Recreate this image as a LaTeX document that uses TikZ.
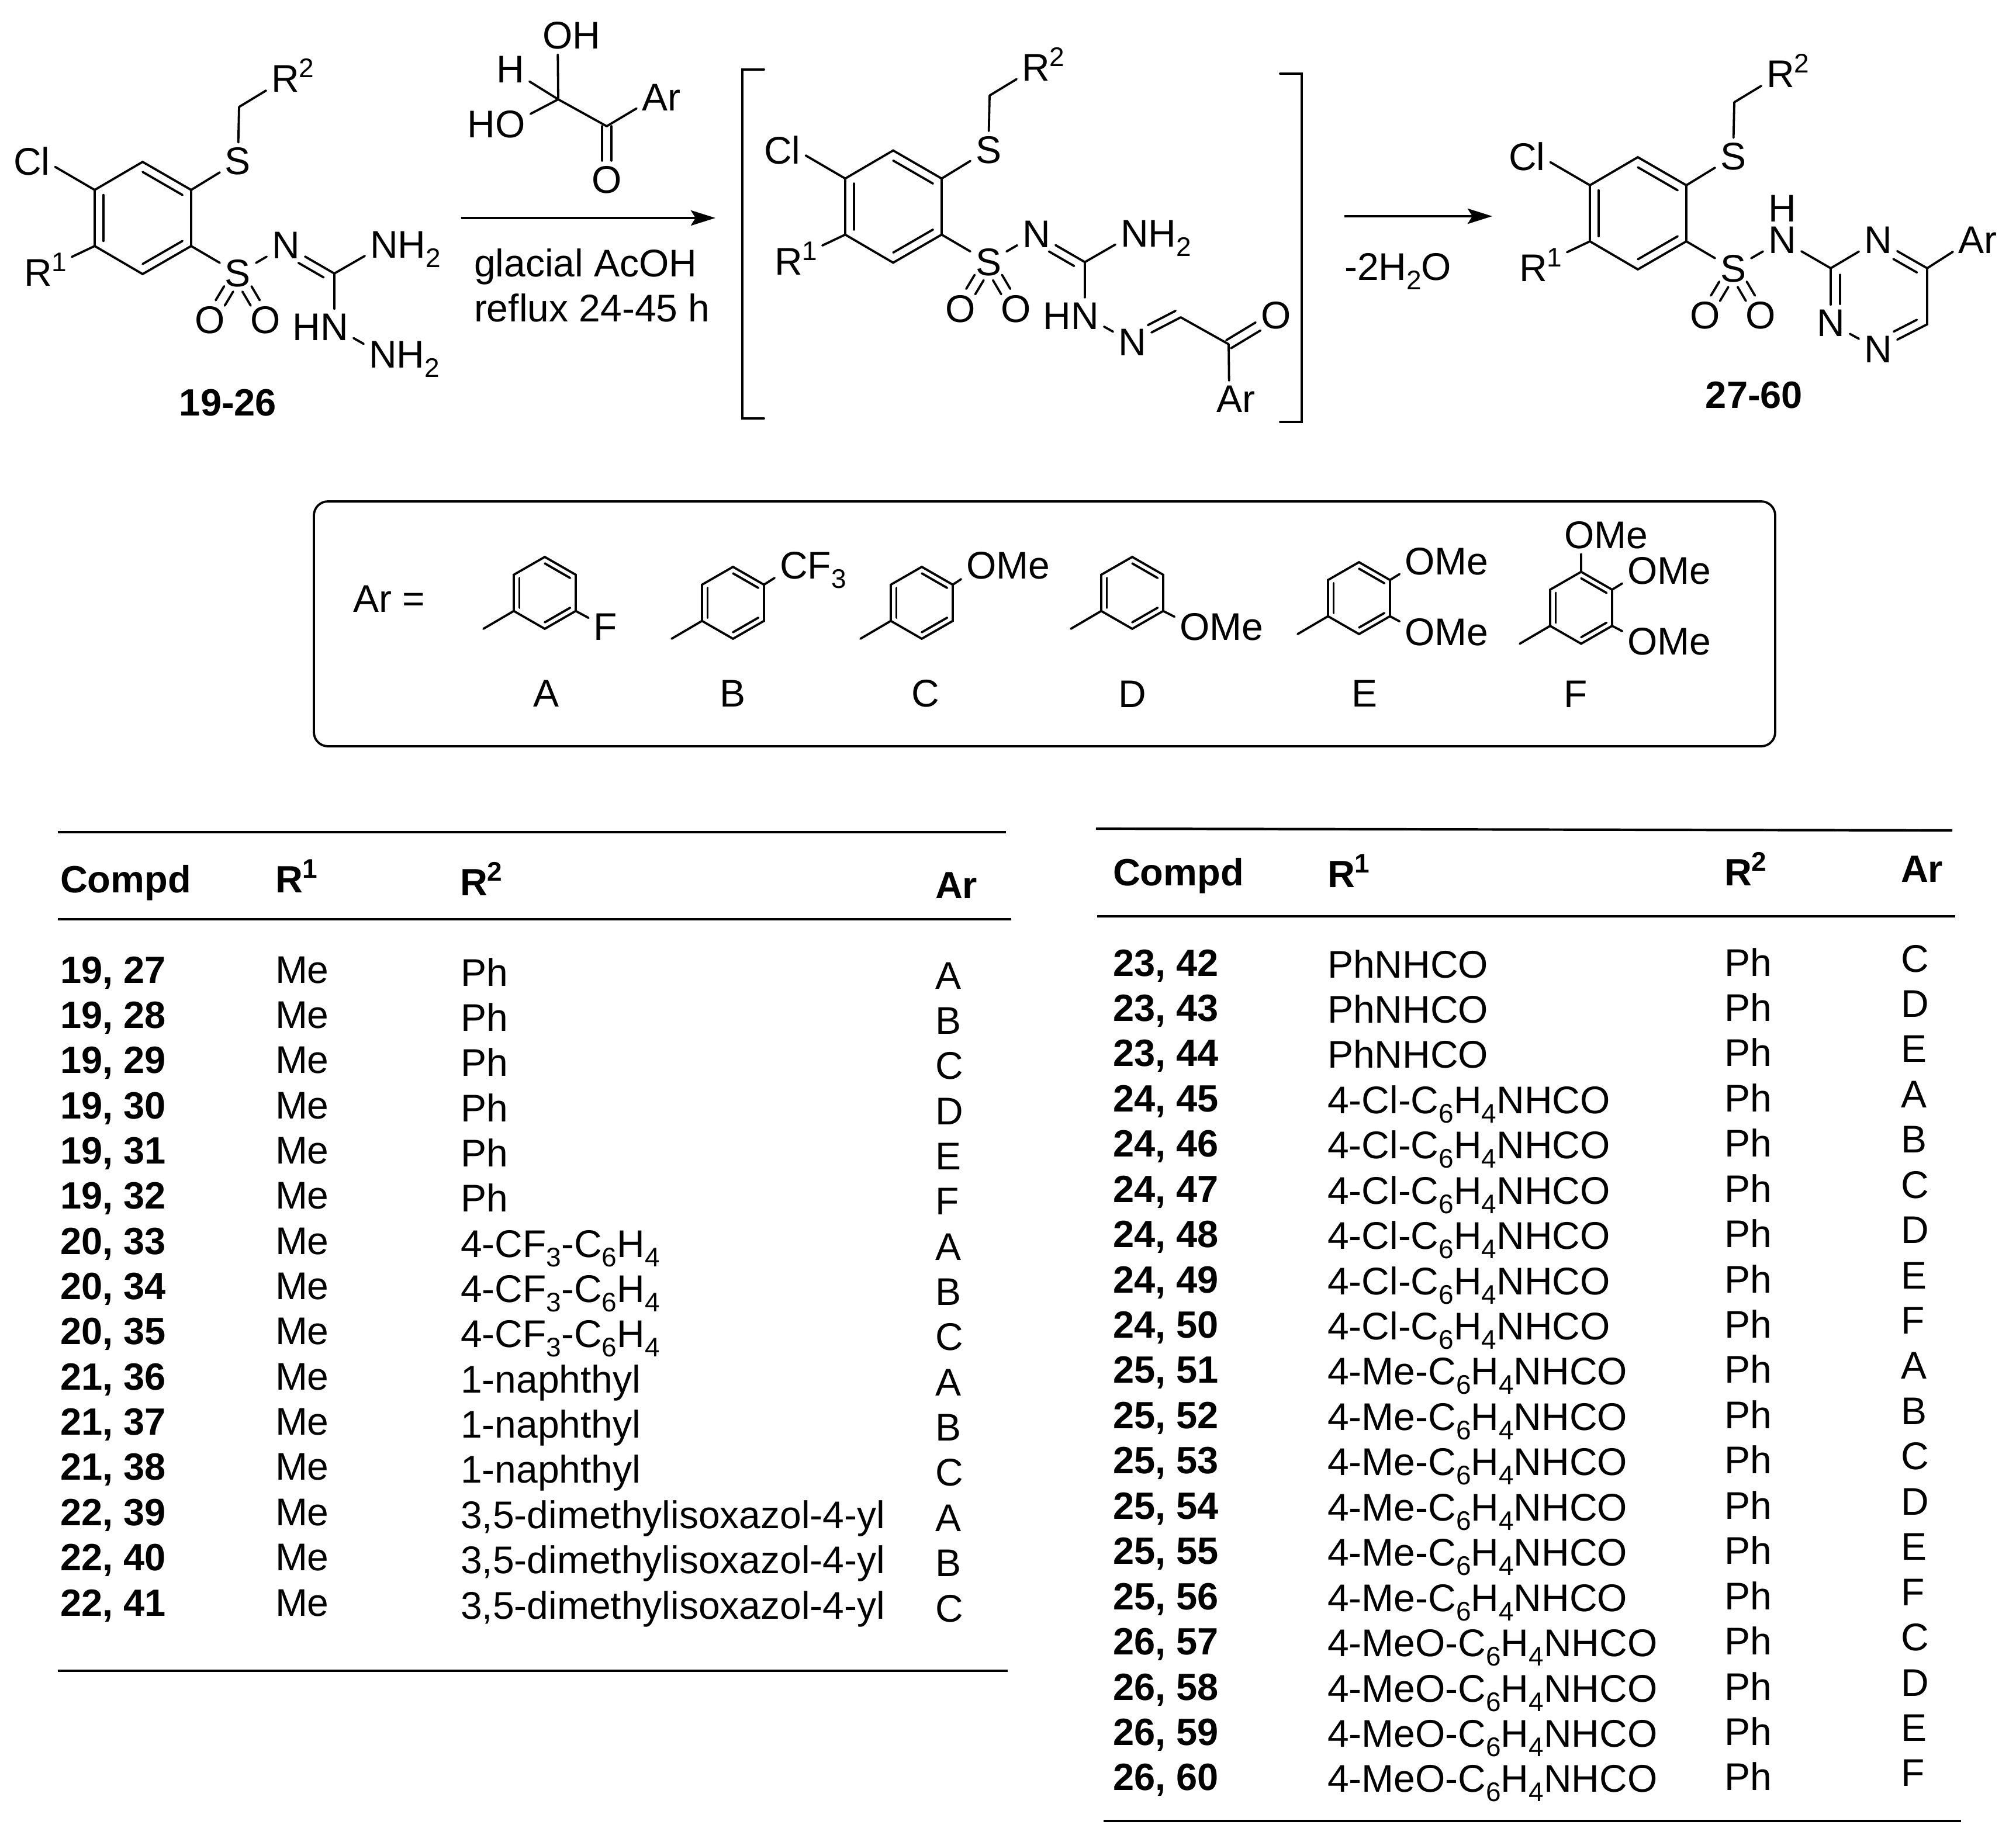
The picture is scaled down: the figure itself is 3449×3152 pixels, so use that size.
\documentclass[tikz,border=0pt]{standalone}
\usepackage{fontspec}
\setmainfont{Liberation Sans}
\usetikzlibrary{calc,arrows.meta}
\newcommand\lblfont{\fontsize{33pt}{36pt}\selectfont}
\newcommand\bldfont{\fontsize{32.5pt}{36pt}\selectfont\bfseries}
\newcommand\sbs[1]{\raisebox{-8pt}{\fontsize{23pt}{23pt}\selectfont #1}}
\newcommand\sups[1]{\raisebox{12.5pt}{\fontsize{23pt}{23pt}\selectfont #1}}
\newcommand\aft[1]{\rlap{\smash{#1}}}
\newcommand\bef[1]{\llap{\smash{#1}}}
\tikzset{
  atom/.style={inner sep=4.5pt,outer sep=0pt,font=\lblfont},
  bond/.style={line width=1.9pt,line cap=round},
  rxn/.style={line width=2.4pt,-{Stealth[length=21pt,width=13pt,inset=4pt]}},
  rule/.style={line width=2.1pt},
  txt/.style={anchor=base west,inner sep=0pt,outer sep=0pt,font=\lblfont},
  bold/.style={anchor=base west,inner sep=0pt,outer sep=0pt,font=\bldfont},
  lab/.style={inner sep=0pt,outer sep=0pt,font=\lblfont},
}
% parallel pair either side of the axis a-b
\newcommand\pairb[5]{%
  \draw[bond] ($(#1)!#3!(#2)!#5!90:(#2)$) -- ($(#1)!#4!(#2)!#5!90:(#2)$);
  \draw[bond] ($(#1)!#3!(#2)!#5!-90:(#2)$) -- ($(#1)!#4!(#2)!#5!-90:(#2)$);}
% one line beside the axis a-b
\newcommand\offb[5]{%
  \draw[bond] ($(#1)!#3!(#2)!#5!90:(#2)$) -- ($(#1)!#4!(#2)!#5!90:(#2)$);}
% inner line of an aromatic bond
\newcommand\innerb[3]{%
  \draw[bond] ($(#1)!.18!(#3)$) -- ($(#2)!.18!(#3)$);}
% chlorobenzene sulfonyl fragment shared by the three molecules
\newcommand\corefrag[3]{%
\begin{scope}[shift={(#2,#3)}]
  \coordinate (#1a) at (244,277);
  \coordinate (#1b) at (327,325);
  \coordinate (#1c) at (327,421);
  \coordinate (#1d) at (244,469);
  \coordinate (#1e) at (162,421);
  \coordinate (#1f) at (162,325);
  \coordinate (#1m) at (244.5,373);
  \coordinate (#1ch) at (409,183);
  \node[atom] (#1cl) at (78,276) {\bef{C}l};
  \node[atom,inner xsep=17pt] (#1ra) at (65,467) {R\aft{\sups{1}}};
  \node[atom] (#1rb) at (488,135) {R\aft{\sups{2}}};
  \node[atom] (#1st) at (407,276) {S};
  \node[atom] (#1sb) at (407,468) {S};
  \node[atom] (#1ol) at (359,548) {O};
  \node[atom] (#1or) at (454,548) {O};
  \draw[bond] (#1a)--(#1b)--(#1c)--(#1d)--(#1e)--(#1f)--cycle;
  \innerb{#1a}{#1b}{#1m}
  \innerb{#1e}{#1f}{#1m}
  \innerb{#1c}{#1d}{#1m}
  \draw[bond] (#1f) -- (#1cl);
  \draw[bond] (#1e) -- (#1ra);
  \draw[bond] (#1b) -- (#1st);
  \draw[bond] (#1st) -- (#1ch);
  \draw[bond] (#1ch) -- (#1rb);
  \draw[bond] (#1c) -- (#1sb);
  \pairb{#1sb}{#1ol}{.33}{.63}{4.5pt}
  \pairb{#1sb}{#1or}{.33}{.63}{4.5pt}
\end{scope}}
% N=C(NH2)-NH part of the two guanidines
\newcommand\guan[3]{%
\begin{scope}[shift={(#2,#3)}]
  \coordinate (#1gc) at (572,468);
  \node[atom] (#1gn) at (489,420) {N};
  \node[atom] (#1gh) at (657,419) {N\aft{H\sbs{2}}};
  \node[atom] (#1gi) at (572,560) {\bef{H}N};
  \draw[bond] (#1sb) -- (#1gn);
  \draw[bond] (#1gn) -- (#1gc);
  \offb{#1gn}{#1gc}{.35}{.87}{-7.5pt}
  \draw[bond] (#1gc) -- (#1gh);
  \draw[bond] (#1gc) -- (#1gi);
\end{scope}}
% substituted phenyl of the Ar box
\newcommand\arring[3]{%
\begin{scope}[shift={(#2,#3)}]
  \coordinate (#1m) at (0,0);
  \coordinate (#1a) at (0,-61.5);
  \coordinate (#1b) at (53,-31);
  \coordinate (#1c) at (53,31);
  \coordinate (#1d) at (0,61.5);
  \coordinate (#1e) at (-53,31);
  \coordinate (#1f) at (-53,-31);
  \coordinate (#1s) at (-105,61.5);
  \draw[bond] (#1a)--(#1b)--(#1c)--(#1d)--(#1e)--(#1f)--cycle;
  \innerb{#1a}{#1b}{#1m}
  \innerb{#1e}{#1f}{#1m}
  \innerb{#1c}{#1d}{#1m}
  \draw[bond] (#1e) -- (#1s);
\end{scope}}
\begin{document}
\begin{tikzpicture}[x=0.5pt,y=-0.5pt]
\useasboundingbox (0,0) rectangle (3449,3152);
\fill[white] (0,0) rectangle (3449,3152);

% ---- molecule 19-26
\corefrag{p}{0}{0}
\guan{p}{0}{0}
\node[atom] (pnh) at (655,607) {N\aft{H\sbs{2}}};
\draw[bond] (pgi) -- (pnh);
\node[lab,font=\bldfont] (pname) at (390,689) {19-26};

% ---- reagent
\coordinate (ga) at (955,170);
\coordinate (gb) at (1038,216);
\node[atom] (goh) at (954,61) {O\aft{H}};
\node[atom] (gh) at (873,119) {H};
\node[atom] (gho) at (873,213) {\bef{H}O};
\node[atom] (gar) at (1120,167) {A\aft{r}};
\node[atom] (go) at (1038,308) {O};
\draw[bond] (ga) -- (goh);
\draw[bond] (ga) -- (gh);
\draw[bond] (ga) -- (gho);
\draw[bond] (ga) -- (gb);
\draw[bond] (gb) -- (gar);
\pairb{gb}{go}{0}{.64}{4pt}

% ---- arrow 1
\coordinate (a1s) at (789,373);
\coordinate (a1e) at (1224,373);
\draw[rxn] (a1s) -- (a1e);
\node[txt] (c1) at (811,473) {glacial AcOH};
\node[txt] (c2) at (811,550) {reflux 24-45 h};

% ---- intermediate
\corefrag{q}{1284}{-19.5}
\guan{q}{1284}{-19.5}
\node[atom] (qnn) at (1937,586) {N};
\coordinate (qch) at (2020,543);
\coordinate (qco) at (2102,589);
\node[atom] (qo) at (2183,540) {O};
\node[atom] (qar) at (2103,683) {A\aft{r}};
\draw[bond] (qgi) -- (qnn);
\draw[bond] (qnn) -- (qch);
\offb{qnn}{qch}{.40}{.97}{7pt}
\draw[bond] (qch) -- (qco);
\pairb{qco}{qo}{0}{.62}{4pt}
\draw[bond] (qco) -- (qar);
\draw[bond] (1307,119) -- (1270,119) -- (1270,716) -- (1307,716);
\draw[bond] (2190,126) -- (2227,126) -- (2227,722) -- (2190,722);

% ---- arrow 2
\coordinate (a2s) at (2300,370);
\coordinate (a2e) at (2553,370);
\draw[rxn] (a2s) -- (a2e);
\node[txt] (c3) at (2300,479) {-2H\sbs{2}O};

% ---- product
\corefrag{r}{2558}{-8}
\node[atom] (rn) at (3049,411) {N};
\node[lab] (rh) at (3049,357) {H};
\coordinate (t3) at (3132,459);
\node[atom] (t4) at (3213,411) {N};
\coordinate (t5) at (3297,459);
\coordinate (t6) at (3297,555);
\node[atom] (t1) at (3213,598) {N};
\node[atom] (t2) at (3132,553) {N};
\node[atom] (rar) at (3372,411) {A\aft{r}};
\draw[bond] (rsb) -- (rn);
\draw[bond] (rn) -- (t3);
\draw[bond] (t3) -- (t4);
\draw[bond] (t4) -- (t5);
\offb{t4}{t5}{.40}{.88}{-7.5pt}
\draw[bond] (t5) -- (t6);
\draw[bond] (t6) -- (t1);
\offb{t6}{t1}{.13}{.60}{-7.5pt}
\draw[bond] (t1) -- (t2);
\draw[bond] (t2) -- (t3);
\offb{t3}{t2}{.12}{.65}{8pt}
\draw[bond] (t5) -- (rar);
\node[lab,font=\bldfont] (rname) at (3001,676) {27-60};

% ---- Ar box
\draw[bond,rounded corners=12pt] (537,858) rectangle (3037,1277);
\node[txt] (areq) at (604,1047) {Ar =};
\arring{A}{932}{1014.5}
\node[atom] (Ax) at (1036,1073) {F};
\draw[bond] (Ac) -- (Ax);
\arring{B}{1254}{1031.5}
\node[atom] (Bx) at (1358,968) {C\aft{F\sbs{3}}};
\draw[bond] (Bb) -- (Bx);
\arring{C}{1577}{1031.5}
\node[atom] (Cx) at (1679,968) {O\aft{Me}};
\draw[bond] (Cb) -- (Cx);
\arring{D}{1937}{1014.5}
\node[atom] (Dx) at (2044,1073) {O\aft{Me}};
\draw[bond] (Dc) -- (Dx);
\arring{E}{2325}{1023.5}
\node[atom] (Ex) at (2429,961) {O\aft{Me}};
\node[atom] (Ey) at (2429,1082) {O\aft{Me}};
\draw[bond] (Eb) -- (Ex);
\draw[bond] (Ec) -- (Ey);
\arring{F}{2705}{1040}
\node[atom] (Fx) at (2702,916) {O\aft{Me}};
\node[atom] (Fy) at (2810,977) {O\aft{Me}};
\node[atom] (Fz) at (2810,1098) {O\aft{Me}};
\draw[bond] (Fa) -- (Fx.south -| Fa);
\draw[bond] (Fb) -- (Fy);
\draw[bond] (Fc) -- (Fz);
\node[lab] (lA) at (935,1187) {A};
\node[lab] (lB) at (1253,1187) {B};
\node[lab] (lC) at (1583,1187) {C};
\node[lab] (lD) at (1937,1188) {D};
\node[lab] (lE) at (2334,1187) {E};
\node[lab] (lF) at (2696,1188) {F};

% ---- left table
\draw[rule] (99,1424) -- (1721,1424);
\draw[rule] (99,1573) -- (1730,1573);
\draw[rule] (99,2859) -- (1724,2859);
\node[bold] (lh1) at (103,1527) {Compd};
\node[bold] (lh2) at (471,1527) {R\sups{1}};
\node[bold] (lh3) at (787,1532) {R\sups{2}};
\node[bold] (lh4) at (1600,1537) {Ar};
\foreach \tcp/\tra/\trb/\tar [count=\k from 0] in {
 {19, 27}/Me/Ph/A,{19, 28}/Me/Ph/B,{19, 29}/Me/Ph/C,{19, 30}/Me/Ph/D,{19, 31}/Me/Ph/E,{19, 32}/Me/Ph/F,
 {20, 33}/Me/{4-CF\sbs{3}-C\sbs{6}H\sbs{4}}/A,{20, 34}/Me/{4-CF\sbs{3}-C\sbs{6}H\sbs{4}}/B,{20, 35}/Me/{4-CF\sbs{3}-C\sbs{6}H\sbs{4}}/C,
 {21, 36}/Me/1-naphthyl/A,{21, 37}/Me/1-naphthyl/B,{21, 38}/Me/1-naphthyl/C,
 {22, 39}/Me/3{,}5-dimethylisoxazol-4-yl/A,{22, 40}/Me/3{,}5-dimethylisoxazol-4-yl/B,{22, 41}/Me/3{,}5-dimethylisoxazol-4-yl/C}{
  \pgfmathsetmacro\yy{1682+77.36*\k}
  \node[bold] (lp\k) at (103,\yy) {\tcp};
  \node[txt] (lq\k) at (471,\yy) {\tra};
  \node[txt] (lr\k) at (788,\yy+5) {\trb};
  \node[txt] (ls\k) at (1600,\yy+10) {\tar};
}

% ---- right table
\draw[rule] (1875,1418) -- (3340,1421);
\draw[rule] (1877,1568) -- (3345,1568);
\draw[rule] (1888,3116) -- (3355,3116);
\node[bold] (rh1) at (1904,1515) {Compd};
\node[bold] (rh2) at (2271,1518) {R\sups{1}};
\node[bold] (rh3) at (2950,1515) {R\sups{2}};
\node[bold] (rh4) at (3252,1509) {Ar};
\foreach \tcp/\tra/\tar [count=\k from 0] in {
 {23, 42}/PhNHCO/C,{23, 43}/PhNHCO/D,{23, 44}/PhNHCO/E,
 {24, 45}/{4-Cl-C\sbs{6}H\sbs{4}NHCO}/A,{24, 46}/{4-Cl-C\sbs{6}H\sbs{4}NHCO}/B,{24, 47}/{4-Cl-C\sbs{6}H\sbs{4}NHCO}/C,{24, 48}/{4-Cl-C\sbs{6}H\sbs{4}NHCO}/D,{24, 49}/{4-Cl-C\sbs{6}H\sbs{4}NHCO}/E,{24, 50}/{4-Cl-C\sbs{6}H\sbs{4}NHCO}/F,
 {25, 51}/{4-Me-C\sbs{6}H\sbs{4}NHCO}/A,{25, 52}/{4-Me-C\sbs{6}H\sbs{4}NHCO}/B,{25, 53}/{4-Me-C\sbs{6}H\sbs{4}NHCO}/C,{25, 54}/{4-Me-C\sbs{6}H\sbs{4}NHCO}/D,{25, 55}/{4-Me-C\sbs{6}H\sbs{4}NHCO}/E,{25, 56}/{4-Me-C\sbs{6}H\sbs{4}NHCO}/F,
 {26, 57}/{4-MeO-C\sbs{6}H\sbs{4}NHCO}/C,{26, 58}/{4-MeO-C\sbs{6}H\sbs{4}NHCO}/D,{26, 59}/{4-MeO-C\sbs{6}H\sbs{4}NHCO}/E,{26, 60}/{4-MeO-C\sbs{6}H\sbs{4}NHCO}/F}{
  \pgfmathsetmacro\yy{1670+77.44*\k}
  \node[bold] (tp\k) at (1904,\yy) {\tcp};
  \node[txt] (tq\k) at (2271,\yy+3) {\tra};
  \node[txt] (tr\k) at (2950,\yy) {Ph};
  \node[txt] (ts\k) at (3252,\yy-7) {\tar};
}
\end{tikzpicture}
\end{document}
